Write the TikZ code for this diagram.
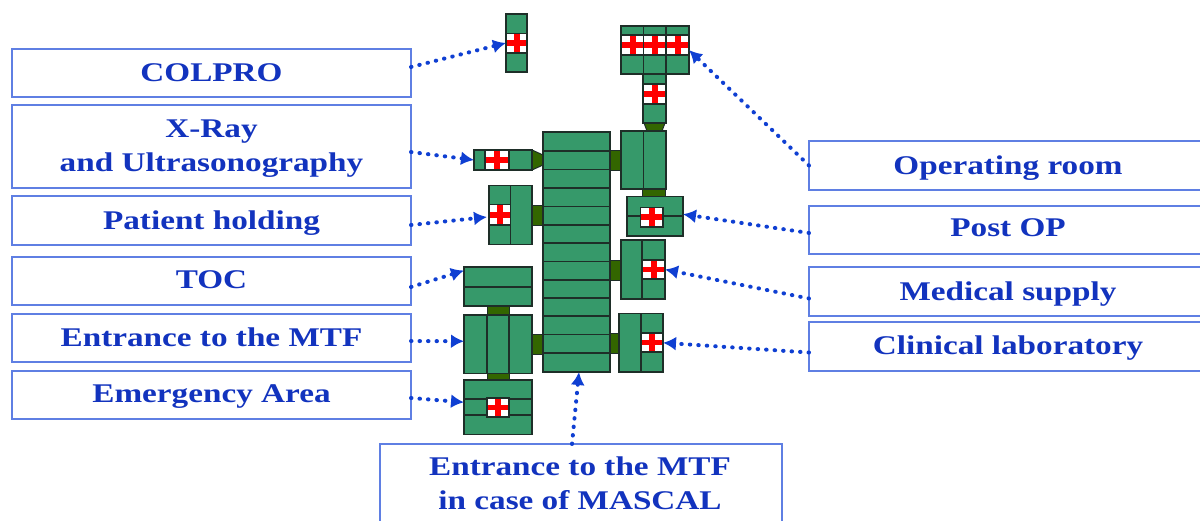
\documentclass[tikz,border=0pt]{standalone}
\usepackage{fontspec}
\setmainfont{Liberation Serif}[FakeStretch=1.23]
\usetikzlibrary{arrows.meta,fit}
\definecolor{roomgreen}{HTML}{36996A}
\definecolor{stubgreen}{HTML}{336600}
\definecolor{wallgray}{HTML}{1E2E28}
\definecolor{lblblue}{HTML}{1233BE}
\definecolor{lbledge}{HTML}{5F7FE3}
\definecolor{ptrblue}{HTML}{0F3FD2}

\begin{document}
\begin{tikzpicture}[
  x=1pt, y=-1pt,
  font=\bfseries\fontsize{27}{34}\selectfont,
  lbl/.style={draw=lbledge, line width=1.3pt, fill=white, inner sep=0pt, outer sep=0pt},
  txt/.style={text=lblblue, align=center},
  room/.style={draw=wallgray, line width=1.4pt, fill=roomgreen, inner sep=0pt, outer sep=0pt},
  wall/.style={draw=wallgray, line width=1.4pt},
  stub/.style={draw=wallgray, line width=1pt, fill=stubgreen, inner sep=0pt},
  tile/.style={draw=wallgray, line width=1.4pt, fill=white, inner sep=0pt, path picture={
    \fill[red] ([xshift=-3pt]path picture bounding box.north) rectangle ([xshift=3pt]path picture bounding box.south);
    \fill[red] ([yshift=-2.8pt]path picture bounding box.west) rectangle ([yshift=2.8pt]path picture bounding box.east);}},
  ptr/.style={draw=ptrblue, line width=4pt, line cap=round, dash pattern=on 0.5pt off 8pt,
              -{Latex[length=13pt,width=14pt]}}
]
\useasboundingbox (0,0) rectangle (1200,520);

% stubs between the wings
\node[stub, fit={(610,150) (621,170)}] (stubnorth) {};
\node[stub, fit={(532,205) (543,225)}] (stubhold) {};
\node[stub, fit={(610,260) (621,280)}] (stubsupply) {};
\node[stub, fit={(610,333) (619,353)}] (stublab) {};
\node[stub, fit={(532,334) (543,354)}] (stubentry) {};
\node[stub, fit={(487,306) (509,315)}] (stubtoc) {};
\node[stub, fit={(487,373) (509,380)}] (stubemerg) {};
\node[stub, fit={(642,189) (665,197)}] (stubpost) {};
\draw[stub] (644,123) -- (665,123) -- (662,131) -- (647,131) -- cycle;
\draw[stub] (532,150) -- (543,155) -- (543,165) -- (532,170) -- cycle;

% main ward
\node[room, fit={(543,132) (610,372)}] (ward) {};
\foreach \wy in {151,169.5,188,206.5,225,243,261.5,280,298,316,334.5,353}
  \draw[wall] (543,\wy) -- (610,\wy);

% COLPRO
\node[room, fit={(506,14) (527,72)}] (colpro) {};
\node[tile, fit={(506,33.5) (527,53)}] (colprotile) {};

% operating room
\node[room, fit={(621,26) (689,74)}] (opblock) {};
\draw[wall] (621,35) -- (689,35);
\foreach \ox in {621,643.5,666}
  \node[tile, fit={(\ox,35) (\ox+23,55)}] (optile\ox) {};
\draw[wall] (643.5,55) -- (643.5,74);
\draw[wall] (666,55) -- (666,74);
\draw[wall] (643.5,26) -- (643.5,35);
\draw[wall] (666,26) -- (666,35);
\node[room, fit={(643,74) (666,123)}] (oplink) {};
\node[tile, fit={(643,84) (666,104)}] (oplinktile) {};

% north wing
\node[room, fit={(621,131) (666,189)}] (northwing) {};
\draw[wall] (643.5,131) -- (643.5,189);

% X-ray
\node[room, fit={(474,150) (532,170)}] (xray) {};
\node[tile, fit={(485,150) (509,170)}] (xraytile) {};

% patient holding
\node[room, fit={(489,185.5) (532,244.5)}] (holding) {};
\draw[wall] (510.5,185.5) -- (510.5,244.5);
\node[tile, fit={(489,204.5) (510.5,225)}] (holdingtile) {};

% post OP
\node[room, fit={(627,196.5) (683,236)}] (postop) {};
\draw[wall] (627,216) -- (683,216);
\node[tile, fit={(640.5,207.5) (663,227)}] (postoptile) {};

% medical supply
\node[room, fit={(621,240) (665,299)}] (supply) {};
\draw[wall] (642,240) -- (642,299);
\node[tile, fit={(642,260) (665,279)}] (supplytile) {};

% clinical laboratory
\node[room, fit={(619,313.5) (663,372)}] (lab) {};
\draw[wall] (641,313.5) -- (641,372);
\node[tile, fit={(641,333) (663,352)}] (labtile) {};

% TOC, entrance, emergency
\node[room, fit={(464,267) (532,306)}] (toc) {};
\draw[wall] (464,287) -- (532,287);
\node[room, fit={(464,315) (532,373.5)}] (entry) {};
\draw[wall] (487,315) -- (487,373.5);
\draw[wall] (509,315) -- (509,373.5);
\node[room, fit={(464,380) (532,434.5)}] (emerg) {};
\draw[wall] (464,399) -- (532,399);
\draw[wall] (464,415) -- (532,415);
\node[tile, fit={(487,398) (509,417)}] (emergtile) {};

% labels
\node[lbl, fit={(12,49) (411,97)}] (lblcolpro) {};
\node[txt] at (lblcolpro.center) (txtcolpro) {COLPRO};
\node[lbl, fit={(12,105) (411,188)}] (lblxray) {};
\node[txt, yshift=-2pt] at (lblxray.center) (txtxray) {X-Ray\\and Ultrasonography};
\node[lbl, fit={(12,196) (411,245)}] (lblhold) {};
\node[txt, yshift=-3pt] at (lblhold.center) (txthold) {Patient holding};
\node[lbl, fit={(12,257) (411,305)}] (lbltoc) {};
\node[txt, yshift=1pt] at (lbltoc.center) (txttoc) {TOC};
\node[lbl, fit={(12,314) (411,362)}] (lblentry) {};
\node[txt, yshift=1pt] at (lblentry.center) (txtentry) {Entrance to the MTF};
\node[lbl, fit={(12,371) (411,419)}] (lblemerg) {};
\node[txt, yshift=-2pt] at (lblemerg.center) (txtemerg) {Emergency Area};
\node[lbl, fit={(809,141) (1207,190)}] (lblop) {};
\node[txt, yshift=-3pt] at (lblop.center) (txtop) {Operating room};
\node[lbl, fit={(809,206) (1207,254)}] (lblpost) {};
\node[txt, yshift=2pt] at (lblpost.center) (txtpost) {Post OP};
\node[lbl, fit={(809,267) (1207,316)}] (lblsupply) {};
\node[txt, yshift=-3pt] at (lblsupply.center) (txtsupply) {Medical supply};
\node[lbl, fit={(809,322) (1207,371)}] (lbllab) {};
\node[txt, yshift=-2pt] at (lbllab.center) (txtlab) {Clinical laboratory};
\node[lbl, fit={(380,444) (782,530)}] (lblmascal) {};
\node[txt] at (580,483.5) (txtmascal) {Entrance to the MTF\\in case of MASCAL};

% pointers
\draw[ptr] ([yshift=6pt]lblcolpro.east) -- (colpro.west);
\draw[ptr] ([yshift=-5.5pt]lblxray.east) -- (xray.west);
\draw[ptr] ([yshift=-4.5pt]lblhold.east) -- ([yshift=-2pt,xshift=-2pt]holding.west);
\draw[ptr] ([yshift=-6pt]lbltoc.east) -- ([yshift=16pt]toc.west);
\draw[ptr] ([yshift=-3pt]lblentry.east) -- ([yshift=3pt]entry.west);
\draw[ptr] ([yshift=-3pt]lblemerg.east) -- ([yshift=5pt]emerg.west);
\draw[ptr] (lblop.west) -- (opblock.east);
\draw[ptr] ([yshift=-3pt]lblpost.west) -- ([yshift=2pt]postop.east);
\draw[ptr] ([yshift=-7pt]lblsupply.west) -- (supply.east);
\draw[ptr] ([yshift=-6pt]lbllab.west) -- (lab.east);
\draw[ptr] ([xshift=-9pt]lblmascal.north) -- ([xshift=2.5pt]ward.south);
\end{tikzpicture}
\end{document}
